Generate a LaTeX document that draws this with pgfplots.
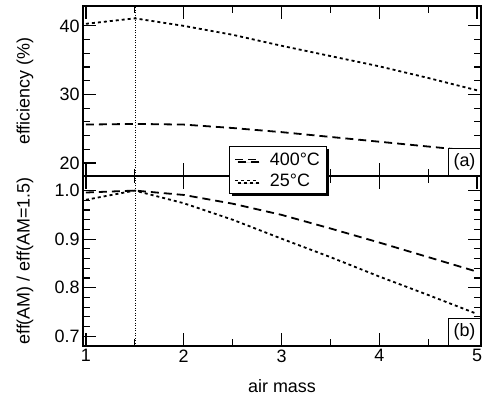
\documentclass[border=0pt]{standalone}
\usepackage{pgfplots}
\pgfplotsset{compat=1.18}
\usepackage{fontspec}
\setmainfont{Liberation Sans}
\usetikzlibrary{shadows}
\pgfplotsset{
  myaxis/.style={
    scale only axis, width=398bp,
    xmin=0.97, xmax=5.04,
    xtick={1,2,3,4,5}, minor x tick num=1,
    minor y tick num=4,
    tick align=inside,
    major tick length=13bp, minor tick length=7bp,
    every tick/.style={black, line width=1.2bp},
    axis line style={line width=1.5bp},
    font=\fontsize{18}{21}\selectfont,
    /pgf/number format/assume math mode=true,
    every axis y label/.style={at={(axis description cs:-0.146,0.5)}, rotate=90, anchor=center},
  },
  d400/.style={black, line width=1.8bp, dash pattern=on 8bp off 5bp},
  d25/.style={black, line width=1.8bp, dash pattern=on 3bp off 3bp},
  vline/.style={black, line width=0.6bp, dash pattern=on 1bp off 1.5bp},
}
\begin{document}
\begin{tikzpicture}
\path[use as bounding box] (-83bp,-52bp) rectangle (410bp,346bp);
\begin{axis}[myaxis, name=bot, at={(0,0)}, anchor=south west,
  height=170bp, ymin=0.68, ymax=1.03,
  ytick={0.7,0.8,0.9,1.0},
  yticklabel style={/pgf/number format/.cd, fixed, fixed zerofill, precision=1},
  ylabel={eff(AM) / eff(AM=1.5)},
  xlabel={air mass},
  every axis x label/.style={at={(axis description cs:0.5,-0.235)}, anchor=center},
]
\addplot[vline] coordinates {(1.5,0.68) (1.5,1.03)};
\addplot[d400] coordinates {(1,0.996)(1.5,1.0)(2,0.991)(2.5,0.973)(3,0.950)(3.5,0.922)(4,0.893)(4.5,0.863)(5,0.833)};
\addplot[d25] coordinates {(1,0.981)(1.5,1.0)(2,0.974)(2.5,0.940)(3,0.901)(3.5,0.863)(4,0.823)(4.5,0.785)(5,0.746)};
\node[draw, fill=white, line width=1bp, anchor=south east, inner sep=3bp, minimum height=27bp, minimum width=32bp] at (rel axis cs:1,0) {(b)};
\end{axis}
\begin{axis}[myaxis, name=top, at={(bot.north west)}, anchor=south west,
  height=170bp, ymin=18.1, ymax=42.9,
  ytick={20,30,40},
  xticklabels={},
  ylabel={efficiency (\%)},
  legend style={at={(0.49,0.035)}, anchor=center, draw=black, line width=1bp,
    fill=white, drop shadow={shadow xshift=2.5bp, shadow yshift=-2.5bp, fill=black, opacity=1},
    font=\fontsize{18}{19}\selectfont, inner xsep=5bp, inner ysep=4bp,
    row sep=3bp,
    /tikz/every odd column/.append style={column sep=10bp}},
  legend cell align=left,
  legend image code/.code={\draw[#1] (0bp,0bp) -- (22bp,0bp);},
]
\addplot[vline, forget plot] coordinates {(1.5,18.1) (1.5,42.9)};
\addplot[d400] coordinates {(1,25.6)(1.5,25.7)(2,25.6)(2.5,25.1)(3,24.5)(3.5,23.8)(4,23.1)(4.5,22.4)(5,21.7)};
\addlegendentry{400°C}
\addplot[d25] coordinates {(1,40.3)(1.5,41.1)(2,40.0)(2.5,38.7)(3,37.1)(3.5,35.6)(4,34.1)(4.5,32.4)(5,30.6)};
\addlegendentry{25°C}
\node[draw, fill=white, line width=1bp, anchor=south east, inner sep=3bp, minimum height=27bp, minimum width=32bp] at (rel axis cs:1,0) {(a)};
\end{axis}
\end{tikzpicture}
\end{document}
